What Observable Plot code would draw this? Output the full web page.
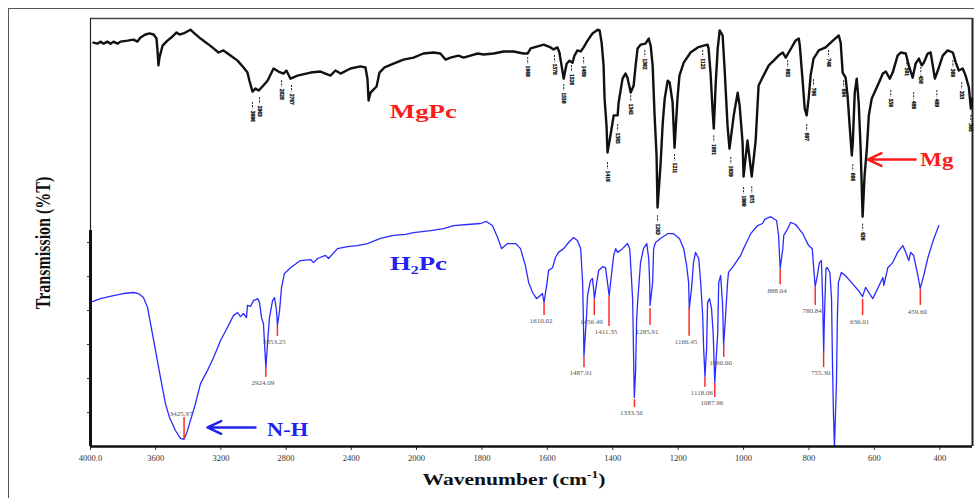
<!DOCTYPE html>
<html><head><meta charset="utf-8">
<script src="https://cdn.jsdelivr.net/npm/d3@7"></script>
<script src="https://cdn.jsdelivr.net/npm/@observablehq/plot@0.6"></script>
<style>
body{margin:0;background:#fff;}
#wrap{position:relative;width:974px;height:498px;overflow:hidden;background:#fff;}
#border{position:absolute;left:8px;top:8px;width:1200px;height:1200px;border-left:1px solid #555;border-top:1px solid #555;pointer-events:none;}
#chart{position:absolute;left:0;top:0;}
.ylab{position:absolute;left:43px;top:243px;transform:translate(-50%,-50%) scaleX(1.3) rotate(-90deg);font:bold 16px "Liberation Serif",serif;white-space:nowrap;color:#111;}
.xlab{position:absolute;left:514px;top:479px;transform:translate(-50%,-50%) scaleX(1.35);font:bold 16px "Liberation Serif",serif;white-space:nowrap;color:#111;}
.xlab sup{font-size:10px;}
</style>
</head><body>
<div id="wrap">
  <div id="chart"></div>
  <div id="border"></div>
  <div class="ylab">Transmission (%T)</div>
  <div class="xlab">Wavenumber (cm<sup>-1</sup>)</div>
</div>
<script>
// ---- data ----
const xTicks = [4000,3600,3200,2800,2400,2000,1800,1600,1400,1200,1000,800,600,400];
const yTicks = [10,20,30,40,50,60];

// MgPc spectrum [wavenumber, %T]
const mgpcSpectrum = [[3982,118.8],[3957,118.5],[3939,119.1],[3920,118.5],[3896,119.1],[3877,118.5],[3859,119.1],[3834,118.5],[3816,119.1],[3773,119.4],[3736,119.7],[3712,119.1],[3693,120.3],[3663,121.2],[3638,121.5],[3613,121.2],[3595,120.0],[3589,116.5],[3583,112.1],[3577,114.4],[3558,117.9],[3528,119.4],[3497,120.6],[3472,121.8],[3454,121.2],[3429,121.5],[3387,122.6],[3362,121.5],[3325,120.0],[3282,118.5],[3245,117.1],[3215,115.9],[3184,116.5],[3141,115.0],[3098,113.5],[3061,111.5],[3037,110.0],[3025,107.6],[3006,104.4],[2988,105.3],[2969,104.7],[2945,105.9],[2914,107.6],[2877,111.2],[2847,110.3],[2816,109.7],[2798,110.6],[2773,108.2],[2730,109.1],[2650,110.0],[2589,110.3],[2528,109.1],[2497,110.6],[2466,109.7],[2405,111.2],[2344,111.8],[2313,111.5],[2301,108.2],[2294,101.8],[2282,104.1],[2264,105.0],[2245,105.9],[2227,110.0],[2196,111.5],[2141,112.6],[2080,113.8],[2018,114.4],[1979,115.6],[1948,115.9],[1927,115.6],[1911,113.8],[1896,114.4],[1872,115.0],[1856,114.4],[1835,115.0],[1813,115.6],[1795,115.3],[1764,115.6],[1734,116.2],[1703,116.2],[1673,115.6],[1660,115.6],[1651,117.1],[1611,118.2],[1590,117.4],[1581,116.8],[1569,117.4],[1563,115.9],[1553,110.0],[1550,108.2],[1541,112.6],[1532,113.5],[1523,112.9],[1517,115.0],[1508,116.5],[1498,116.2],[1489,117.4],[1477,119.4],[1462,121.5],[1446,122.6],[1440,122.4],[1434,118.8],[1428,112.1],[1425,102.4],[1419,94.4],[1416,86.5],[1407,91.5],[1397,97.4],[1385,97.4],[1382,101.2],[1370,108.2],[1361,109.7],[1355,108.5],[1345,104.1],[1336,106.2],[1330,112.1],[1324,117.1],[1315,118.2],[1300,118.5],[1290,120.0],[1284,117.9],[1278,112.1],[1272,97.4],[1266,85.6],[1263,70.3],[1254,82.6],[1247,95.3],[1241,102.4],[1232,107.6],[1226,107.1],[1217,101.2],[1211,87.9],[1202,102.4],[1196,109.1],[1183,112.9],[1162,115.9],[1140,117.4],[1122,117.9],[1110,118.2],[1107,117.1],[1101,110.0],[1095,99.4],[1091,93.5],[1085,107.1],[1079,117.1],[1073,122.4],[1064,120.9],[1058,111.2],[1049,94.4],[1043,87.6],[1030,97.4],[1018,104.1],[1012,100.3],[1003,89.4],[1000,79.4],[988,90.0],[975,79.4],[963,90.0],[954,106.2],[939,109.1],[923,112.1],[908,113.5],[893,115.0],[880,115.9],[871,114.4],[862,115.9],[841,119.4],[831,120.0],[828,117.9],[819,107.1],[813,99.4],[807,97.4],[801,102.4],[795,109.1],[786,114.1],[770,116.5],[749,117.4],[727,119.4],[709,120.9],[703,118.8],[697,110.0],[688,108.5],[682,103.2],[675,93.5],[669,85.6],[666,89.4],[660,104.1],[654,108.2],[648,101.2],[642,87.6],[636,67.6],[630,79.7],[623,87.6],[617,97.4],[608,102.4],[590,106.2],[574,109.7],[565,110.3],[553,108.2],[544,110.0],[529,115.0],[519,115.9],[504,115.6],[495,112.1],[483,108.5],[474,112.6],[464,114.1],[455,112.1],[449,112.9],[437,115.6],[428,115.9],[415,108.2],[406,110.6],[391,115.0],[376,116.5],[360,115.9],[351,112.9],[342,110.6],[330,111.2],[321,109.1],[311,105.6],[305,99.4],[301,102.4]];

// H2Pc spectrum [wavenumber, %T]
const h2pcSpectrum = [[3988,42.6],[3939,43.5],[3859,44.4],[3798,45.0],[3736,45.3],[3706,45.0],[3675,43.8],[3650,40.9],[3632,36.2],[3601,28.2],[3571,20.3],[3540,12.6],[3515,8.5],[3479,4.7],[3448,2.4],[3426,2.1],[3411,3.8],[3387,7.6],[3356,12.6],[3325,18.5],[3282,22.4],[3245,26.2],[3202,31.2],[3160,35.0],[3123,38.5],[3098,39.4],[3080,38.2],[3061,39.1],[3043,37.9],[3037,41.5],[3018,41.2],[3000,42.9],[2975,43.5],[2963,42.4],[2951,37.9],[2939,36.2],[2930,28.2],[2924,23.2],[2914,30.3],[2902,37.9],[2883,42.9],[2871,43.8],[2859,40.0],[2853,35.6],[2840,40.0],[2828,46.8],[2810,50.9],[2773,52.6],[2712,54.7],[2650,55.0],[2632,54.1],[2607,55.3],[2558,56.2],[2540,55.3],[2485,58.2],[2423,58.8],[2362,59.1],[2301,59.7],[2221,61.2],[2141,62.1],[2068,62.4],[2018,62.9],[1957,63.5],[1917,64.1],[1887,65.0],[1844,65.3],[1804,65.6],[1786,66.2],[1768,65.0],[1752,61.5],[1740,58.2],[1722,59.7],[1697,59.7],[1682,58.2],[1667,53.2],[1657,48.2],[1645,45.3],[1633,43.5],[1621,44.4],[1615,45.0],[1610,42.4],[1602,47.4],[1596,51.8],[1584,52.6],[1575,55.6],[1566,57.1],[1550,58.2],[1535,60.0],[1520,61.5],[1508,60.6],[1498,58.2],[1492,48.2],[1489,33.5],[1488,26.5],[1480,38.5],[1477,44.4],[1474,45.9],[1468,48.8],[1462,49.4],[1459,46.8],[1456,43.5],[1449,48.2],[1443,51.8],[1431,52.9],[1422,52.6],[1416,48.2],[1411,44.4],[1403,51.2],[1397,56.2],[1391,58.2],[1385,57.1],[1370,58.2],[1355,59.7],[1348,58.2],[1342,48.2],[1339,42.9],[1336,25.3],[1334,14.4],[1330,22.4],[1327,37.1],[1324,42.4],[1315,54.1],[1306,58.2],[1296,59.7],[1290,55.3],[1287,48.2],[1286,41.5],[1278,48.2],[1275,58.2],[1269,60.0],[1254,61.2],[1232,62.6],[1214,62.6],[1196,61.2],[1183,58.2],[1174,53.2],[1168,48.2],[1166,40.6],[1159,46.5],[1153,54.1],[1147,57.1],[1137,55.3],[1131,48.2],[1125,38.5],[1122,28.8],[1118,20.6],[1113,28.8],[1110,42.4],[1104,43.5],[1098,40.6],[1093,33.5],[1090,24.7],[1088,18.8],[1079,33.5],[1076,48.2],[1070,50.3],[1064,41.5],[1061,29.7],[1055,38.5],[1049,48.2],[1046,51.2],[1030,53.2],[1009,56.2],[1000,58.2],[988,60.6],[978,62.6],[957,65.0],[942,65.6],[935,66.8],[917,67.6],[899,66.5],[893,62.1],[890,56.2],[888,52.4],[880,58.2],[877,62.1],[865,64.1],[856,65.9],[841,65.3],[819,62.6],[801,59.1],[790,58.2],[785,51.8],[781,47.1],[776,49.4],[768,54.1],[762,54.7],[758,42.9],[755,27.6],[753,37.1],[748,52.4],[744,52.6],[736,51.2],[731,43.5],[728,23.8],[725,9.1],[722,0],[716,18.8],[713,38.5],[710,48.2],[701,51.2],[689,50.3],[667,47.9],[649,45.9],[636,44.1],[627,46.8],[617,45.3],[605,43.5],[590,46.5],[574,49.7],[571,47.4],[559,52.6],[544,54.1],[529,57.1],[513,59.1],[504,57.1],[495,54.7],[489,57.1],[480,56.2],[467,50.3],[460,46.5],[449,50.3],[437,55.3],[428,58.2],[418,61.2],[403,65.0]];

// MgPc peak labels [wavenumber, %T at label top]
const mgpcPeakLabels = [[3006,101.8],[2963,103.2],[2828,108.2],[2767,106.8],[1660,115.0],[1578,115.6],[1550,107.1],[1526,112.6],[1489,115.0],[1416,84.1],[1385,95.3],[1345,103.8],[1302,117.1],[1263,68.5],[1211,86.5],[1125,117.1],[1091,92.0],[1039,85.6],[1000,76.8],[975,77.0],[865,114.1],[807,95.3],[786,108.5],[740,117.1],[694,108.2],[666,83.5],[636,66.0],[550,105.3],[501,114.4],[480,104.7],[458,112.1],[409,105.3],[360,114.1],[333,107.6],[305,98.0]];

// H2Pc marked peaks
const h2pcPeaks =       [3425.97,2924.09,2853.25,1610.02,1487.91,1456.49,1411.35,1333.56,1285.91,1166.45,1118.06,1087.96,1060.60,888.04,780.84,755.30,636.01,459.60];
const h2pcLineStartT =  [8.5,23.2,35.6,42.1,26.2,43.2,44.1,13.8,40.6,40.6,20.3,18.5,29.7,52.1,46.8,27.4,43.2,46.2];
const h2pcLineEndT =    [2.1,20.3,32.4,38.5,23.2,38.5,35.3,11.5,35.6,32.4,17.4,14.4,26.2,47.6,41.5,23.2,38.5,41.5];
const h2pcLabelT =      [9.7,18.8,30.9,37.1,21.8,36.8,33.8,10.0,33.8,30.9,15.9,12.9,24.7,45.9,40.0,21.8,36.8,39.7];

const seriesNames = ["MgPc", "H₂Pc"];
const annotations = [
  {w: 1979, t: 98.4, text: seriesNames[0], color: "#ff1a1a"},
  {w: 1994, t: 53.6, text: seriesNames[1], color: "#2222ee"},
  {w: 2791, t: 4.9, text: "N-H", color: "#2222ee"},
  {w: 409, t: 84.1, text: "Mg", color: "#ff1a1a"}
];
const arrows = [
  {w1: 2988, w2: 3282, t: 5.6, color: "#2222ee"},
  {w1: 474, w2: 620, t: 84.4, color: "#ff1a1a"}
];

// ---- build ----
const mg = mgpcSpectrum.map(([w, t]) => ({w, t}));
const h2 = h2pcSpectrum.map(([w, t]) => ({w, t}));
const peaks = h2pcPeaks.map((w, i) => ({w, a: h2pcLineStartT[i], b: h2pcLineEndT[i], l: h2pcLabelT[i], name: w.toFixed(2)}));
const mgLabels = mgpcPeakLabels.map(([w, t]) => ({w, t, name: String(w)}));

const chart = Plot.plot({
  width: 974,
  height: 498,
  marginLeft: 90,
  marginRight: 2,
  marginTop: 18,
  marginBottom: 52,
  style: {fontFamily: "'Liberation Serif', serif", fontSize: "8.5px", color: "#333", background: "transparent"},
  x: {type: "linear", domain: [4000, 2000, 300], range: [90, 416, 972], ticks: xTicks,
      tickFormat: d => d === 4000 ? "4000.0" : String(d), tickSize: 4, tickPadding: 4, label: null},
  y: {domain: [0, 125.9], range: [446, 18], ticks: yTicks, tickFormat: () => "", tickSize: 3, label: null},
  marks: [
    Plot.ruleY([125.9], {stroke: "#444", strokeWidth: 1.6}),
    Plot.ruleX([300], {stroke: "#222", strokeWidth: 2}),
    Plot.ruleX([4000], {stroke: "#222", strokeWidth: 1.2}),
    Plot.ruleX([4000], {y1: 0, y2: 63.5, stroke: "#111", strokeWidth: 3}),
    Plot.line(h2, {x: "w", y: "t", stroke: "#2b2bff", strokeWidth: 1.3, strokeLinejoin: "round"}),
    Plot.line(mg, {x: "w", y: "t", stroke: "#111", strokeWidth: 2.4, strokeLinejoin: "round"}),
    Plot.ruleX(peaks, {x: "w", y1: "a", y2: "b", stroke: "#ff2b2b", strokeWidth: 1.5}),
    Plot.text(peaks, {x: "w", y: "l", text: "name", fontSize: 7, fill: "#555", dx: -3}),
    Plot.ruleX(mgLabels, {x: "w", y1: d => d.t - 0.6, y2: d => d.t - 2.6, stroke: "#222", strokeWidth: 1, strokeDasharray: "2,1.2"}),
    Plot.text(mgLabels, {x: "w", y: d => d.t - 3.0, text: "name", rotate: 90, textAnchor: "start", fontSize: 5.5, fontWeight: "bold", fill: "#111", stroke: "#111", strokeWidth: 0.3}),
    Plot.ruleY([0], {stroke: "#111", strokeWidth: 2.5}),
    Plot.arrow(arrows, {x1: "w1", x2: "w2", y1: "t", y2: "t", stroke: "color", strokeWidth: 2.5, headLength: 9, headAngle: 50}),
    Plot.text(annotations, {x: "w", y: "t", text: "text", fill: "color", fontSize: 18, fontWeight: "bold", fontFamily: "'Liberation Serif', serif"})
  ]
});
document.getElementById("chart").appendChild(chart);

// horizontally stretched lettering, as in the scanned figure
const stretch = {"MgPc": 67, "H₂Pc": 57, "N-H": 41, "Mg": 33};
d3.select(chart).selectAll("text").each(function() {
  const L = stretch[this.textContent];
  if (L) { this.setAttribute("textLength", L); this.setAttribute("lengthAdjust", "spacingAndGlyphs"); }
});
</script>
</body></html>
